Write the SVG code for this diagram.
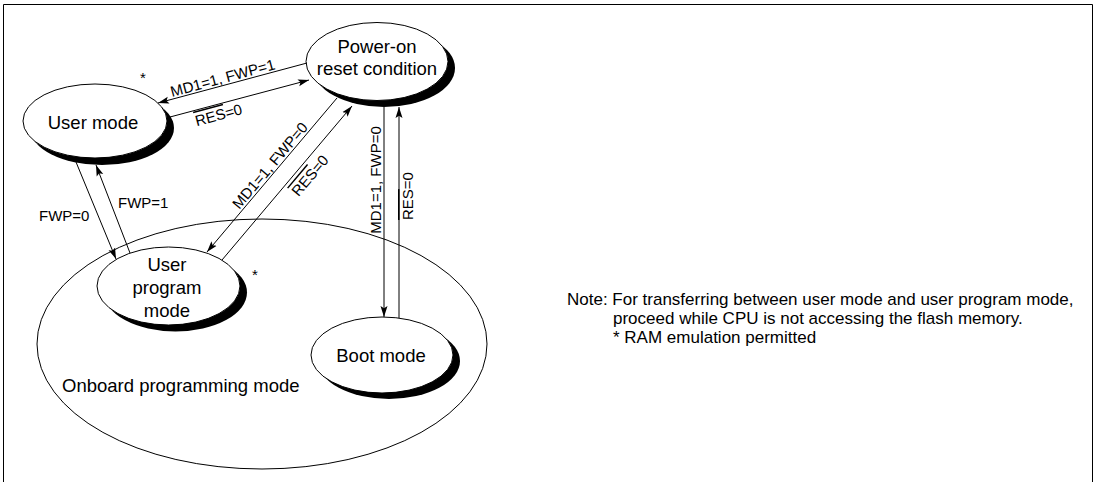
<svg xmlns="http://www.w3.org/2000/svg" width="1096" height="482" viewBox="0 0 1096 482">
<defs>
<style>
text{font-family:"Liberation Sans",Arial,sans-serif;fill:#000}
.n{font-size:18.5px;text-anchor:middle}
.l{font-size:15px}
.c{text-anchor:middle}
.ov{text-decoration:overline}
.sh{fill:#000;stroke:none}
.nd{fill:#fff;stroke:#000;stroke-width:1}
.cn{fill:none;stroke:#000;stroke-width:1;marker-end:url(#ah)}
</style>
<marker id="ah" markerUnits="userSpaceOnUse" markerWidth="12" markerHeight="8" refX="11" refY="4" orient="auto">
<path d="M0,0.5 L11,4 L0,7.5 L2.2,4 z" fill="#000"/>
</marker>
</defs>
<rect width="1096" height="482" fill="#fff"/>
<path d="M3.5,482 V4.5 H1092.5 V482" fill="none" stroke="#000" stroke-width="1"/>

<g id="onboard">
<ellipse cx="262" cy="344" rx="225" ry="125" fill="#fff" stroke="#000" stroke-width="1"/>
<text x="62" y="392" style="font-size:18.5px">Onboard programming mode</text>
</g>

<g id="poweron">
<ellipse class="sh" cx="384" cy="68" rx="71" ry="39"/>
<ellipse class="nd" cx="377" cy="61.5" rx="71" ry="39"/>
<text class="n" x="377" y="53">Power-on</text>
<text class="n" x="377" y="75">reset condition</text>
</g>

<g id="usermode">
<ellipse class="sh" cx="102" cy="128" rx="72" ry="37"/>
<ellipse class="nd" cx="95" cy="121" rx="72" ry="37"/>
<text class="n" x="93" y="129">User mode</text>
<text class="l c" x="143" y="83">*</text>
</g>

<g id="userprogram">
<ellipse class="sh" cx="175.5" cy="292.5" rx="71.5" ry="39"/>
<ellipse class="nd" cx="168.5" cy="286" rx="71.5" ry="39"/>
<text class="n" x="167" y="271">User</text>
<text class="n" x="167" y="294">program</text>
<text class="n" x="167" y="317">mode</text>
<text class="l c" x="255" y="280">*</text>
</g>

<g id="boot">
<ellipse class="sh" cx="389" cy="361" rx="71" ry="38"/>
<ellipse class="nd" cx="382" cy="355" rx="71" ry="38"/>
<text class="n" x="381" y="362">Boot mode</text>
</g>

<g id="connectors">
<path class="cn" d="M307,63 L158,103"/>
<path class="cn" d="M170,117 L309,80"/>
<path class="cn" d="M337,98 L207,252"/>
<path class="cn" d="M222,260 L352,106"/>
<path class="cn" d="M384,107 L384,317"/>
<path class="cn" d="M399,318 L399,107"/>
<path class="cn" d="M76,162 L116,259"/>
<path class="cn" d="M130,253 L96,165"/>
<text class="l c" transform="translate(224,83) rotate(-15)">MD1=1, FWP=1</text>
<text class="l c" transform="translate(220,120) rotate(-15)"><tspan class="ov">RES</tspan>=0</text>
<text class="l c" transform="translate(274,169) rotate(-49.8)">MD1=1, FWP=0</text>
<text class="l c" transform="translate(314,179) rotate(-49.8)"><tspan class="ov">RES</tspan>=0</text>
<text class="l c" transform="translate(381,180) rotate(-90)">MD1=1, FWP=0</text>
<text class="l c" transform="translate(413,196) rotate(-90)"><tspan class="ov">RES</tspan>=0</text>
<text class="l" x="39" y="221">FWP=0</text>
<text class="l" x="118" y="208">FWP=1</text>
</g>

<g id="note" style="font-size:17px">
<text x="567" y="305">Note: For transferring between user mode and user program mode,</text>
<text x="613" y="324">proceed while CPU is not accessing the flash memory.</text>
<text x="613" y="343">* RAM emulation permitted</text>
</g>
</svg>
